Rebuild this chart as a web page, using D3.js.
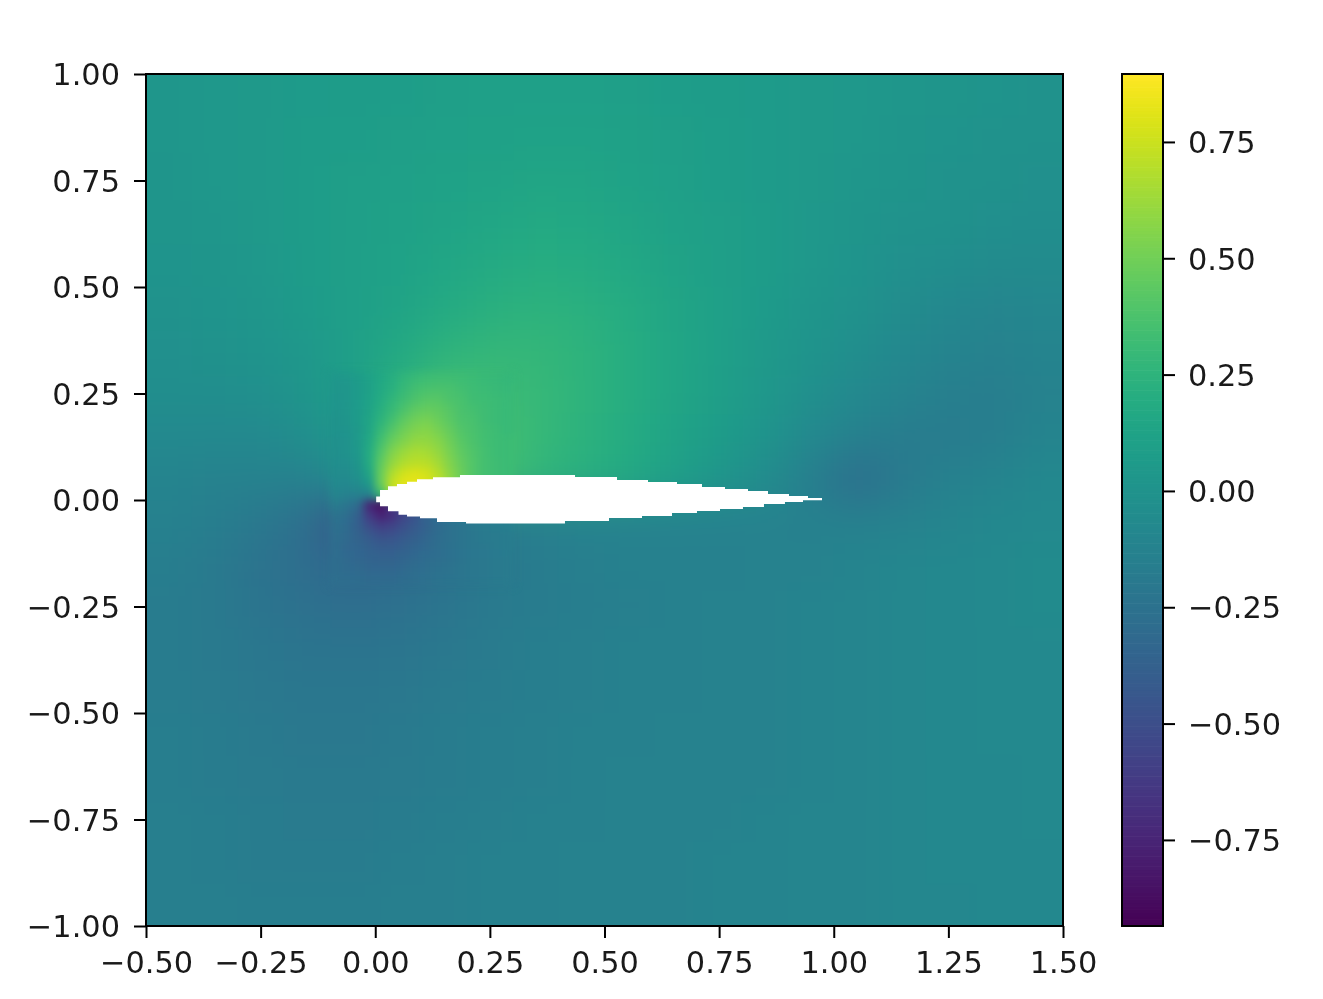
<!DOCTYPE html>
<html><head><meta charset="utf-8">
<script src="https://cdn.jsdelivr.net/npm/d3@7"></script>
<style>html,body{margin:0;background:#fff}svg{display:block}
text{font-family:"DejaVu Sans";font-size:30.4px;fill:#1a1a1a}</style></head>
<body><div id="c"></div>
<script>
const xTicks=[-0.5,-0.25,0,0.25,0.5,0.75,1,1.25,1.5];
const yTicks=[-1,-0.75,-0.5,-0.25,0,0.25,0.5,0.75,1];
const barTicks=[-0.75,-0.5,-0.25,0,0.25,0.5,0.75];
const valueMin=-0.935, valueMax=0.896;
const coarseX=[-.45,-.35,-.25,-.15,-.05,.05,.15,.25,.35,.45,.55,.65,.75,.85,.95,1.05,1.15,1.25,1.35,1.45];
const coarseY=[.95,.85,.75,.65,.55,.45,.35,.25,.15,.05,-.05,-.15,-.25,-.35,-.45,-.55,-.65,-.75,-.85,-.95];
const coarseValues=[
[.03,.04,.05,.06,.07,.08,.09,.10,.10,.10,.09,.08,.07,.06,.05,.04,.03,.02,.01,.00],
[.03,.04,.05,.07,.08,.09,.10,.11,.12,.12,.11,.09,.08,.06,.05,.04,.02,.01,.00,-.01],
[.02,.04,.05,.07,.09,.10,.12,.13,.14,.14,.12,.10,.08,.06,.05,.03,.02,.00,-.01,-.02],
[.02,.03,.05,.07,.09,.11,.13,.15,.17,.16,.14,.11,.09,.07,.04,.02,.00,-.01,-.03,-.04],
[.01,.02,.04,.07,.09,.12,.15,.18,.20,.19,.16,.13,.09,.07,.04,.01,-.02,-.04,-.06,-.06],
[.00,.01,.03,.06,.09,.13,.18,.22,.24,.23,.19,.14,.10,.06,.02,-.01,-.05,-.08,-.10,-.09],
[-.02,-.01,.01,.04,.09,.17,.24,.28,.28,.25,.20,.15,.10,.05,.01,-.04,-.08,-.11,-.13,-.11],
[-.04,-.04,-.02,.02,.10,.22,.34,.32,.29,.25,.20,.15,.09,.04,-.02,-.07,-.11,-.15,-.16,-.12],
[-.07,-.07,-.07,-.03,.05,.30,.50,.36,.29,.24,.19,.13,.07,.01,-.07,-.14,-.17,-.17,-.16,-.11],
[-.11,-.12,-.13,-.13,-.03,.60,.60,.36,.27,.22,.17,.10,.03,-.05,-.16,-.28,-.19,-.14,-.11,-.08],
[-.14,-.16,-.20,-.27,-.50,-.45,-.25,-.18,-.15,-.13,-.12,-.12,-.12,-.13,-.14,-.14,-.12,-.10,-.08,-.07],
[-.16,-.19,-.24,-.29,-.33,-.30,-.25,-.20,-.17,-.15,-.14,-.14,-.14,-.13,-.12,-.11,-.09,-.08,-.07,-.06],
[-.17,-.19,-.23,-.26,-.28,-.26,-.22,-.19,-.17,-.16,-.15,-.14,-.13,-.12,-.11,-.10,-.09,-.08,-.07,-.06],
[-.17,-.19,-.21,-.23,-.23,-.22,-.20,-.18,-.16,-.15,-.14,-.14,-.13,-.12,-.11,-.10,-.09,-.08,-.07,-.07],
[-.17,-.18,-.20,-.21,-.21,-.20,-.18,-.17,-.16,-.15,-.14,-.14,-.13,-.12,-.11,-.10,-.09,-.08,-.07,-.07],
[-.16,-.17,-.19,-.20,-.20,-.19,-.17,-.16,-.15,-.14,-.14,-.13,-.13,-.12,-.11,-.10,-.09,-.08,-.07,-.07],
[-.16,-.17,-.18,-.19,-.19,-.18,-.17,-.16,-.15,-.14,-.13,-.13,-.12,-.12,-.11,-.10,-.09,-.08,-.08,-.07],
[-.15,-.16,-.17,-.18,-.18,-.17,-.16,-.15,-.14,-.14,-.13,-.12,-.12,-.11,-.10,-.10,-.09,-.08,-.08,-.07],
[-.15,-.16,-.17,-.17,-.17,-.16,-.15,-.14,-.14,-.13,-.13,-.12,-.11,-.11,-.10,-.10,-.09,-.08,-.08,-.08],
[-.15,-.15,-.16,-.16,-.16,-.15,-.15,-.14,-.14,-.13,-.13,-.12,-.11,-.11,-.10,-.10,-.09,-.09,-.08,-.08]];
const noseX=[-.0875,-.0625,-.0375,-.0125,.0125,.0375,.0625,.0875,.1125,.1375,.1625,.1875,.2125,.2375,.2625,.2875];
const noseY=[.2875,.2625,.2375,.2125,.1875,.1625,.1375,.1125,.0875,.0625,.0375,.0125,-.0125,-.0375,-.0625,-.0875,-.1125,-.1375,-.1625,-.1875];
const noseValues=[
[.03,.04,.07,.11,.16,.21,.26,.30,.32,.33,.33,.32,.31,.30,.29,.28],
[.02,.03,.06,.11,.17,.23,.29,.34,.36,.37,.36,.34,.32,.31,.30,.29],
[.01,.03,.06,.12,.19,.26,.33,.38,.41,.41,.38,.36,.33,.32,.31,.30],
[.01,.03,.06,.13,.22,.30,.38,.44,.46,.45,.41,.37,.35,.33,.31,.30],
[.00,.02,.06,.14,.25,.35,.44,.50,.52,.48,.43,.38,.36,.33,.31,.30],
[-.01,.01,.05,.15,.30,.41,.50,.55,.56,.52,.46,.40,.37,.34,.32,.30],
[-.02,.00,.05,.17,.35,.48,.55,.60,.60,.56,.49,.42,.38,.34,.32,.31],
[-.03,-.01,.04,.19,.40,.55,.62,.66,.65,.60,.52,.44,.39,.35,.32,.31],
[-.04,-.03,.02,.19,.45,.60,.68,.71,.70,.64,.55,.46,.40,.35,.33,.31],
[-.05,-.05,-.01,.14,.48,.68,.77,.80,.77,.69,.58,.48,.40,.35,.33,.31],
[-.07,-.08,-.05,.05,.48,.74,.82,.83,.80,.72,.60,.48,.40,.35,.33,.31],
[-.10,-.12,-.14,-.12,.30,.66,.76,.80,.78,.70,.58,.48,.40,.35,.33,.31],
[-.18,-.22,-.30,-.75,-.85,-.60,-.50,-.40,-.30,-.20,-.15,-.15,-.15,-.15,-.15,-.15],
[-.24,-.28,-.38,-.62,-.75,-.68,-.55,-.45,-.35,-.28,-.22,-.20,-.18,-.17,-.16,-.15],
[-.26,-.30,-.38,-.50,-.58,-.55,-.48,-.42,-.36,-.30,-.26,-.23,-.20,-.18,-.17,-.16],
[-.27,-.31,-.36,-.42,-.47,-.46,-.42,-.38,-.33,-.29,-.26,-.23,-.21,-.19,-.18,-.17],
[-.28,-.32,-.34,-.37,-.40,-.40,-.37,-.34,-.31,-.28,-.25,-.23,-.21,-.20,-.18,-.17],
[-.28,-.31,-.33,-.35,-.36,-.36,-.34,-.31,-.29,-.27,-.25,-.23,-.21,-.20,-.19,-.18],
[-.28,-.30,-.31,-.33,-.33,-.33,-.31,-.29,-.27,-.25,-.24,-.22,-.21,-.20,-.19,-.18],
[-.27,-.28,-.29,-.30,-.30,-.30,-.29,-.27,-.26,-.24,-.23,-.22,-.21,-.20,-.19,-.18]];
const foilUpperX=[.002,.0104,.0278,.0474,.0693,.0911,.1259,.1848,.4357,.5273,.5949,.6581,.7126,.7628,.8130,.8566,.9024,.9438,.9744];
const foilUpperY=[.008,.0235,.032,.0376,.043,.0485,.0532,.0587,.054,.047,.0423,.0376,.0305,.0258,.0211,.0141,.0094,.0047,.0047];
const foilLowerX=[.002,.0104,.0278,.0507,.0693,.0976,.1347,.198,.4138,.5098,.5818,.6472,.7017,.7519,.802,.8478,.8936,.9329,.9744];
const foilLowerY=[-.005,-.0145,-.0265,-.0345,-.0385,-.043,-.0515,-.055,-.0493,-.0423,-.0376,-.0305,-.0258,-.0211,-.0164,-.0094,-.0047,-.0005,-.0005];

const W=1323,H=999,L=146,R=1063,T=74,B=926,BL=1122,BR=1163;
const x=d3.scaleLinear().domain([-.5,1.5]).range([L,R]);
const y=d3.scaleLinear().domain([-1,1]).range([B,T]);
const v=d3.scaleLinear().domain([valueMin,valueMax]).range([B,T]);
const color=d3.scaleSequential(d3.interpolateViridis).domain([valueMin,valueMax]);
const svg=d3.select("#c").append("svg").attr("width",W).attr("height",H);
const defs=svg.append("defs");
defs.append("clipPath").attr("id","plot").append("rect").attr("x",L).attr("y",T).attr("width",R-L).attr("height",B-T);
const blur=(id,s)=>defs.append("filter").attr("id",id).attr("filterUnits","userSpaceOnUse")
  .attr("x",0).attr("y",0).attr("width",W).attr("height",H).attr("color-interpolation-filters","sRGB")
  .append("feGaussianBlur").attr("stdDeviation",s);
blur("bc",20);blur("bn",4);
blur("bt",0.6);

const plot=svg.append("g").attr("clip-path","url(#plot)");
function cells(xs,ys,vals,step,id,pad){
  const data=vals.flatMap((row,j)=>row.map((val,i)=>({i,j,val})));
  plot.append("g").attr("filter",`url(#${id})`).selectAll("rect").data(data).join("rect")
    .attr("x",d=>x(xs[d.i]-step/2)-(pad&&d.i==0?100:0))
    .attr("y",d=>y(ys[d.j]+step/2)-(pad&&d.j==0?100:0))
    .attr("width",d=>x(xs[d.i]+step/2)-x(xs[d.i]-step/2)+.6+(pad&&(d.i==0||d.i==xs.length-1)?100:0))
    .attr("height",d=>y(ys[d.j]-step/2)-y(ys[d.j]+step/2)+.6+(pad&&(d.j==0||d.j==ys.length-1)?100:0))
    .attr("fill",d=>color(d.val));
}
cells(coarseX,coarseY,coarseValues,.1,"bc",true);
cells(noseX,noseY,noseValues,.025,"bn",false);

const upper=foilUpperX.map((a,i)=>[a,foilUpperY[i]]);
const lower=foilLowerX.map((a,i)=>[a,foilLowerY[i]]);
const area=d3.area().x(d=>x(d[0])).y0(y(0)).y1(d=>y(d[1])).curve(d3.curveStepAfter);
plot.append("path").attr("d",area(upper)).attr("fill","#fff");
plot.append("path").attr("d",area(lower)).attr("fill","#fff");

svg.append("g").selectAll("rect").data(d3.range(0,256)).join("rect")
  .attr("x",BL).attr("width",BR-BL)
  .attr("y",d=>v(valueMin+(valueMax-valueMin)*(d+1)/256))
  .attr("height",(B-T)/256+.6)
  .attr("fill",d=>color(valueMin+(valueMax-valueMin)*(d+.5)/256));

const fmt=d3.format(".2f");
const chrome=svg.append("g").attr("filter","url(#bt)");
function style(g,dy){
  g.select(".domain").remove();
  g.selectAll(".tick line").attr("stroke","#000").attr("stroke-width",2);
  g.selectAll("text").style("font-size","30.4px").attr("transform",`translate(0,${dy})`);
}
chrome.append("g").attr("transform",`translate(0,${B})`)
  .call(d3.axisBottom(x).tickValues(xTicks).tickFormat(fmt).tickSize(12).tickPadding(13)).call(style,0);
chrome.append("g").attr("transform",`translate(${L},0)`)
  .call(d3.axisLeft(y).tickValues(yTicks).tickFormat(fmt).tickSize(12).tickPadding(14)).call(style,1);
chrome.append("g").attr("transform",`translate(${BR},0)`)
  .call(d3.axisRight(v).tickValues(barTicks).tickFormat(fmt).tickSize(12).tickPadding(13)).call(style,1);
chrome.append("rect").attr("x",L).attr("y",T).attr("width",R-L).attr("height",B-T).attr("fill","none").attr("stroke","#000").attr("stroke-width",2);
chrome.append("rect").attr("x",BL).attr("y",T).attr("width",BR-BL).attr("height",B-T).attr("fill","none").attr("stroke","#000").attr("stroke-width",2);
</script></body></html>
